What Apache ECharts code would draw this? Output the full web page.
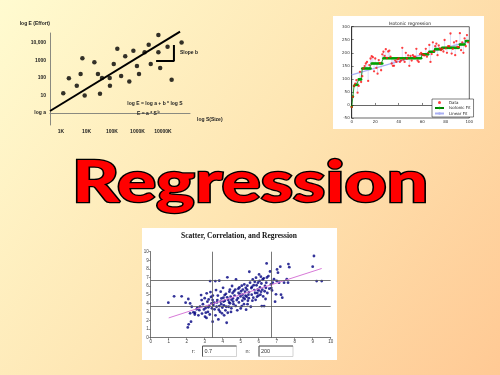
<!DOCTYPE html>
<html><head><meta charset="utf-8">
<script src="https://cdn.jsdelivr.net/npm/echarts@6/dist/echarts.min.js"></script>
<style>html,body{margin:0;padding:0;}#c{width:500px;height:375px;}</style>
</head><body><div id="c"></div>
<script>
// ---------- Top-left: log-log effort/size chart ----------
var tlTickValuesX = [3, 4, 5, 6, 7];
var tlTickLabelsX = ['1K', '10K', '100K', '1000K', '10000K'];
var tlTickValuesY = [0, 1, 2, 3, 4];
var tlTickLabelsY = ['log a', '10', '100', '1000', '10,000'];
var tlPoints = [
  [3.09,1.13],[3.31,1.98],[3.62,1.56],[3.77,2.23],[3.84,3.13],[3.93,0.99],[4.31,2.90],[4.45,2.23],
  [4.53,1.10],[4.61,2.00],[4.91,2.00],[4.92,1.56],[5.07,2.80],[5.21,3.67],[5.36,2.11],[5.52,3.24],
  [5.68,1.79],[5.84,3.56],[5.98,2.69],[6.06,2.23],[6.28,3.47],[6.44,3.90],[6.52,2.80],[6.82,4.46],
  [6.82,3.47],[6.89,2.57],[7.18,3.79],[7.34,1.89],[7.73,4.02]
];
var tlFitLine = [[2.57,0.11],[7.67,4.65]];
var tlSlopeBracket = [[6.73,2.97],[7.43,2.97],[7.43,3.89]];

// ---------- Top-right: isotonic regression ----------
var isoY = [-8,31,73,82,95,47,73,127,88,110,140,149,159,165,92,153,178,187,183,129,
  178,142,120,172,160,133,194,204,188,214,180,205,208,185,159,150,150,170,165,175,
  178,165,170,219,174,165,200,178,190,150,188,170,191,185,185,215,170,165,195,200,
  195,191,190,215,185,200,230,165,195,240,206,225,235,191,228,217,210,215,205,249,
  217,200,225,225,274,197,215,240,191,245,223,222,275,210,240,200,255,225,268,240];
var isoFit = [-7,32,73,77,77,77,98,98,98,140,140,140,140,140,140,140,140,159,159,159,
  159,159,159,159,159,159,159,179,179,179,179,179,179,179,179,179,179,179,179,179,
  179,179,179,179,179,179,179,179,179,179,179,179,179,179,179,179,179,179,179,179,
  194,194,194,194,194,194,204,204,204,204,204,214,214,214,214,214,214,219,219,219,
  219,219,219,219,219,219,219,219,219,219,219,219,232,232,232,232,232,245,245,245];
var isoLinear = [[0,115],[100,245]];
var isoSeriesNames = ['Data', 'Isotonic Fit', 'Linear Fit'];

// ---------- Bottom: scatter, correlation, regression ----------
var scPoints = [
  [0.98,4.07],[1.30,4.81],[1.72,4.81],[1.94,4.07],[2.09,4.50],[2.19,3.99],[2.06,1.20],[2.11,1.55],[2.24,1.86],[2.19,2.83],
  [2.37,2.95],[2.46,2.90],[2.28,3.60],[2.45,2.70],[2.55,3.30],
  [2.59,3.49],[2.74,3.60],[2.80,4.96],[2.83,4.38],[2.96,3.29],[3.02,2.44],[3.06,2.91],[3.11,5.16],[3.15,4.19],[3.20,3.53],
  [3.30,6.59],[3.35,4.73],[3.40,3.41],[3.44,1.86],[3.44,4.38],[3.48,3.80],[2.65,2.60],[2.90,3.90],[3.00,4.60],[3.10,2.30],
  [3.18,3.00],[3.25,3.70],[3.28,2.70],[3.32,5.30],[3.38,4.00],[2.70,3.20],[2.85,2.80],[3.05,3.45],[3.22,4.45],[3.45,4.90],
  [3.52,4.07],[3.59,6.59],[3.63,5.54],[3.70,4.38],[3.76,2.13],[3.81,6.63],[3.81,3.68],[3.85,3.02],[3.89,5.35],[3.93,4.57],
  [3.96,2.83],[4.04,4.65],[4.07,3.76],[4.11,4.96],[4.15,3.18],[4.22,1.74],[4.26,7.02],[4.31,4.38],[4.37,5.35],[4.41,4.00],
  [4.44,4.77],[4.48,3.41],[3.55,3.30],[3.60,2.60],[3.66,3.60],[3.73,4.90],[3.78,3.25],[3.88,4.20],[3.98,3.50],[4.02,5.80],
  [4.08,2.60],[4.12,4.30],[4.18,5.10],[4.20,3.60],[4.28,2.90],[4.33,3.60],[4.36,4.10],[4.40,5.60],[4.46,3.00],[4.49,4.40],
  [3.68,4.10],[3.92,3.90],[4.05,4.20],[4.25,4.70],
  [4.52,6.01],[4.57,4.57],[4.63,5.40],[4.74,6.78],[4.78,4.38],[4.81,3.18],[4.87,5.70],[4.93,5.85],[4.96,5.04],[5.06,6.05],
  [5.06,3.68],[5.15,4.65],[5.20,6.20],[5.24,5.35],[5.30,3.26],[5.33,4.77],[5.37,6.05],[5.43,5.00],[5.48,7.67],[5.52,6.40],
  [5.56,3.60],[4.55,5.20],[4.60,3.90],[4.66,4.90],[4.70,5.60],[4.84,4.60],[4.90,4.10],[4.99,4.80],[5.02,5.40],[5.09,4.30],
  [5.12,5.60],[5.18,3.90],[5.27,4.90],[5.35,5.60],[5.40,4.30],[5.46,5.30],[4.58,4.20],[4.72,3.70],[4.88,5.20],[5.00,3.40],
  [5.10,5.00],[5.22,4.50],[5.28,5.80],[5.38,3.90],[5.45,4.60],
  [5.59,5.77],[5.61,5.00],[5.67,6.78],[5.70,4.65],[5.76,5.54],[5.85,6.98],[5.91,4.77],[5.96,6.40],[6.02,7.36],[6.07,5.85],
  [6.13,5.35],[6.17,3.68],[6.22,6.78],[6.30,3.68],[6.35,6.01],[6.44,8.64],[6.48,5.20],[5.62,5.90],[5.65,4.30],[5.72,6.10],
  [5.80,5.20],[5.83,4.40],[5.88,6.10],[5.94,5.60],[5.99,4.90],[6.05,6.60],[6.10,5.00],[6.15,6.30],[6.20,5.60],[6.25,4.80],
  [6.28,6.90],[6.33,5.40],[6.38,4.50],[6.42,6.40],[6.46,7.00],[5.78,6.50],[5.92,5.20],[6.00,5.50],[6.12,7.10],[6.40,5.80],
  [6.54,7.17],[6.59,5.70],[6.63,7.70],[6.70,5.77],[6.74,5.50],[6.78,6.40],[6.85,6.80],[6.91,4.19],[6.96,5.04],[7.02,7.94],
  [7.07,7.56],[7.13,6.40],[7.20,8.26],[7.24,5.00],[7.31,4.65],[7.41,6.40],[7.56,6.80],[7.63,6.40],[7.65,8.56],[7.70,8.20],
  [6.68,6.20],[7.00,6.60],
  [9.00,8.26],[9.07,9.50],[9.22,6.59],[9.50,6.59]
];
var scRegLine = [[1.0,2.30],[9.5,8.05]];
var scRefX = [3.42, 6.67];
var scRefY = [3.6, 6.7];
var scR = '0.7';

// ---------- build ----------
var isoData = isoY.map(function (v, i) { return [i, v]; });
var isoFitData = isoFit.map(function (v, i) { return [i, v]; });
var isoSeg = isoY.map(function (v, i) { return [i, v, isoFit[i]]; });

var chart = echarts.init(document.getElementById('c'));

var option = {
  animation: false,
  backgroundColor: {type: 'linear', x: 0, y: 0, x2: 1, y2: 1,
    colorStops: [{offset: 0, color: '#fffbd0'}, {offset: 0.5, color: '#fee5b2'}, {offset: 1, color: '#ffc994'}]},
  grid: [
    {left: 50, top: 33, width: 140, height: 92},
    {left: 351.7, top: 26.7, width: 117.6, height: 91.3, show: true, backgroundColor: '#fff', borderColor: '#000', borderWidth: 0.6},
    {left: 150.7, top: 251.7, width: 180, height: 86}
  ],
  xAxis: [
    {gridIndex: 0, type: 'value', min: 2.57, max: 8.06,
      axisLine: {lineStyle: {color: '#8a8a80', width: 1}}, axisTick: {show: false}, splitLine: {show: false},
      axisLabel: {customValues: tlTickValuesX, formatter: function (v) { return tlTickLabelsX[tlTickValuesX.indexOf(v)] || ''; },
        fontSize: 5, fontWeight: 'bold', color: '#222', margin: 4, fontFamily: 'Liberation Sans'},
      name: 'log S(Size)', nameLocation: 'end', nameGap: 7,
      nameTextStyle: {fontSize: 5, fontWeight: 'bold', color: '#222', verticalAlign: 'top', padding: [4, 0, 0, 0], fontFamily: 'Liberation Sans'}},
    {gridIndex: 1, type: 'value', min: 0, max: 100, interval: 20,
      axisLine: {lineStyle: {color: '#000', width: 0.6}}, axisTick: {inside: true, length: 2, lineStyle: {color: '#000', width: 0.5}},
      splitLine: {show: false}, axisLabel: {fontSize: 4, color: '#333', margin: 2, fontFamily: 'DejaVu Sans'}},
    {gridIndex: 2, type: 'value', min: 0, max: 10, interval: 1,
      axisLine: {lineStyle: {color: '#555', width: 0.8}}, axisTick: {length: 2, lineStyle: {color: '#555', width: 0.6}},
      splitLine: {show: false}, axisLabel: {fontSize: 4.5, color: '#444', margin: 2, fontFamily: 'Liberation Sans'}}
  ],
  yAxis: [
    {gridIndex: 0, type: 'value', min: -0.69, max: 4.57,
      axisLine: {show: true, lineStyle: {color: '#8a8a80', width: 1}}, axisTick: {show: false}, splitLine: {show: false},
      axisLabel: {customValues: tlTickValuesY, formatter: function (v) { return tlTickLabelsY[tlTickValuesY.indexOf(v)] || ''; },
        fontSize: 5, fontWeight: 'bold', color: '#222', margin: 4, fontFamily: 'Liberation Sans'},
      name: 'log E (Effort)', nameLocation: 'end', nameGap: 7,
      nameTextStyle: {fontSize: 5, fontWeight: 'bold', color: '#222', align: 'right', fontFamily: 'Liberation Sans'}},
    {gridIndex: 1, type: 'value', min: -50, max: 300, interval: 50,
      axisLine: {show: true, lineStyle: {color: '#000', width: 0.6}}, axisTick: {show: true, inside: true, length: 2, lineStyle: {color: '#000', width: 0.5}},
      splitLine: {show: false}, axisLabel: {fontSize: 4, color: '#333', margin: 2, fontFamily: 'DejaVu Sans'}},
    {gridIndex: 2, type: 'value', min: 0, max: 10, interval: 1,
      axisLine: {show: true, lineStyle: {color: '#555', width: 0.8}}, axisTick: {show: true, length: 2, lineStyle: {color: '#555', width: 0.6}},
      splitLine: {show: false}, axisLabel: {fontSize: 4.5, color: '#444', margin: 2, fontFamily: 'Liberation Sans'}}
  ],
  legend: {data: isoSeriesNames, left: 432, top: 99, orient: 'vertical', itemWidth: 9, itemHeight: 3, itemGap: 1.5,
    padding: [1.5, 3, 1.5, 2], textStyle: {fontSize: 4, color: '#222', fontFamily: 'DejaVu Sans'},
    borderColor: '#000', borderWidth: 0.5, backgroundColor: '#fff'},
  series: [
    {type: 'scatter', xAxisIndex: 0, yAxisIndex: 0, data: tlPoints, symbolSize: 4.5, itemStyle: {color: '#000'}, silent: true},
    {type: 'line', xAxisIndex: 0, yAxisIndex: 0, data: tlFitLine, showSymbol: false, symbol: 'none', clip: false,
      lineStyle: {color: '#000', width: 2}, silent: true},
    {type: 'line', xAxisIndex: 0, yAxisIndex: 0, data: tlSlopeBracket, symbol: 'none', clip: false,
      lineStyle: {color: '#000', width: 2}, silent: true},

    {type: 'custom', xAxisIndex: 1, yAxisIndex: 1, data: isoSeg, encode: {x: 0, y: [1, 2]}, silent: true, z: 1,
      renderItem: function (params, api) {
        var x = api.value(0);
        var p1 = api.coord([x, api.value(1)]);
        var p2 = api.coord([x, api.value(2)]);
        return {type: 'line', shape: {x1: p1[0], y1: p1[1], x2: p2[0], y2: p2[1]}, style: {stroke: '#c4c6ee', lineWidth: 0.6}};
      }},
    {name: 'Linear Fit', type: 'line', xAxisIndex: 1, yAxisIndex: 1, data: isoLinear, symbol: 'none', z: 2,
      lineStyle: {color: '#aab0f4', width: 1.3}, itemStyle: {color: '#aab0f4'}, silent: true},
    {name: 'Isotonic Fit', type: 'line', xAxisIndex: 1, yAxisIndex: 1, data: isoFitData, symbol: 'circle', symbolSize: 2.6, z: 3,
      lineStyle: {color: '#008000', width: 0.8}, itemStyle: {color: '#00a000'}, silent: true},
    {name: 'Data', type: 'scatter', xAxisIndex: 1, yAxisIndex: 1, data: isoData, symbolSize: 2.3, z: 4,
      itemStyle: {color: '#ff1010'}, silent: true},

    {type: 'scatter', xAxisIndex: 2, yAxisIndex: 2, data: scPoints, symbolSize: 2.8, itemStyle: {color: '#000080'}, silent: true, z: 3,
      markLine: {silent: true, symbol: 'none', label: {show: false}, lineStyle: {color: '#555', width: 0.8, type: 'solid'},
        data: scRefX.map(function (v) { return {xAxis: v}; }).concat(scRefY.map(function (v) { return {yAxis: v}; }))}},
    {type: 'line', xAxisIndex: 2, yAxisIndex: 2, data: scRegLine, symbol: 'none', z: 4,
      lineStyle: {color: '#d87ad8', width: 1}, silent: true}
  ],
  graphic: [
    {type: 'rect', z: -10, shape: {x: 333, y: 16, width: 151, height: 113}, style: {fill: '#fff'}},
    {type: 'rect', z: -10, shape: {x: 142, y: 228, width: 195, height: 132}, style: {fill: '#fff'}},
    {type: 'text', z: 5, x: 410, y: 23.5, style: {text: 'Isotonic regression', fontSize: 4.5, fontFamily: 'DejaVu Sans', fill: '#222', align: 'center', verticalAlign: 'middle'}},
    {type: 'text', z: 5, x: 239, y: 236, style: {text: 'Scatter, Correlation, and Regression', fontSize: 7.5, fontWeight: 'bold', fontFamily: 'Liberation Serif', fill: '#111', align: 'center', verticalAlign: 'middle'}},

    {type: 'text', z: 5, x: 195, y: 351.5, style: {text: 'r:', fontSize: 5.5, fontFamily: 'Liberation Sans', fill: '#333', align: 'right', verticalAlign: 'middle'}},
    {type: 'rect', z: 5, shape: {x: 202.5, y: 346, width: 34, height: 10.5}, style: {fill: '#fff', stroke: '#c8c8c8', lineWidth: 0.8}},
    {type: 'polyline', z: 6, shape: {points: [[202.5, 356.5], [202.5, 346], [236.5, 346]]}, style: {stroke: '#555', lineWidth: 1, fill: null}},
    {type: 'text', z: 6, x: 204.5, y: 351.5, style: {text: scR, fontSize: 5.5, fontFamily: 'Liberation Sans', fill: '#333', align: 'left', verticalAlign: 'middle'}},
    {type: 'text', z: 5, x: 250, y: 351.5, style: {text: 'n:', fontSize: 5.5, fontFamily: 'Liberation Sans', fill: '#333', align: 'right', verticalAlign: 'middle'}},
    {type: 'rect', z: 5, shape: {x: 259, y: 346, width: 34, height: 10.5}, style: {fill: '#fff', stroke: '#c8c8c8', lineWidth: 0.8}},
    {type: 'polyline', z: 6, shape: {points: [[259, 356.5], [259, 346], [293, 346]]}, style: {stroke: '#555', lineWidth: 1, fill: null}},
    {type: 'text', z: 6, x: 261, y: 351.5, style: {text: String(scPoints.length), fontSize: 5.5, fontFamily: 'Liberation Sans', fill: '#333', align: 'left', verticalAlign: 'middle'}},

    {type: 'text', z: 5, x: 155, y: 104, style: {text: 'log E = log a + b * log S', fontSize: 5, fontWeight: 'bold', fontFamily: 'Liberation Sans', fill: '#222', align: 'center', verticalAlign: 'middle'}},
    {type: 'text', z: 5, x: 147, y: 114, style: {text: 'E = a * S', fontSize: 5, fontWeight: 'bold', fontFamily: 'Liberation Sans', fill: '#222', align: 'center', verticalAlign: 'middle'}},
    {type: 'text', z: 5, x: 157.5, y: 112.5, style: {text: 'b', fontSize: 3.5, fontWeight: 'bold', fontFamily: 'Liberation Sans', fill: '#222', align: 'left', verticalAlign: 'middle'}},
    {type: 'text', z: 5, x: 180, y: 53, style: {text: 'Slope b', fontSize: 5, fontWeight: 'bold', fontFamily: 'Liberation Sans', fill: '#222', align: 'left', verticalAlign: 'middle'}},

    {type: 'text', z: 20, x: 250, y: 184, scaleX: 1.26, scaleY: 0.97,
      style: {text: 'Regression', fontSize: 58, fontWeight: 900, fontFamily: 'Lato', fill: '#ff0000', stroke: '#000', lineWidth: 2.6,
        align: 'center', verticalAlign: 'middle', shadowColor: 'rgba(40,40,40,0.75)', shadowOffsetX: 3, shadowOffsetY: 3, shadowBlur: 1}}
  ]
};
chart.setOption(option);
</script></body></html>
